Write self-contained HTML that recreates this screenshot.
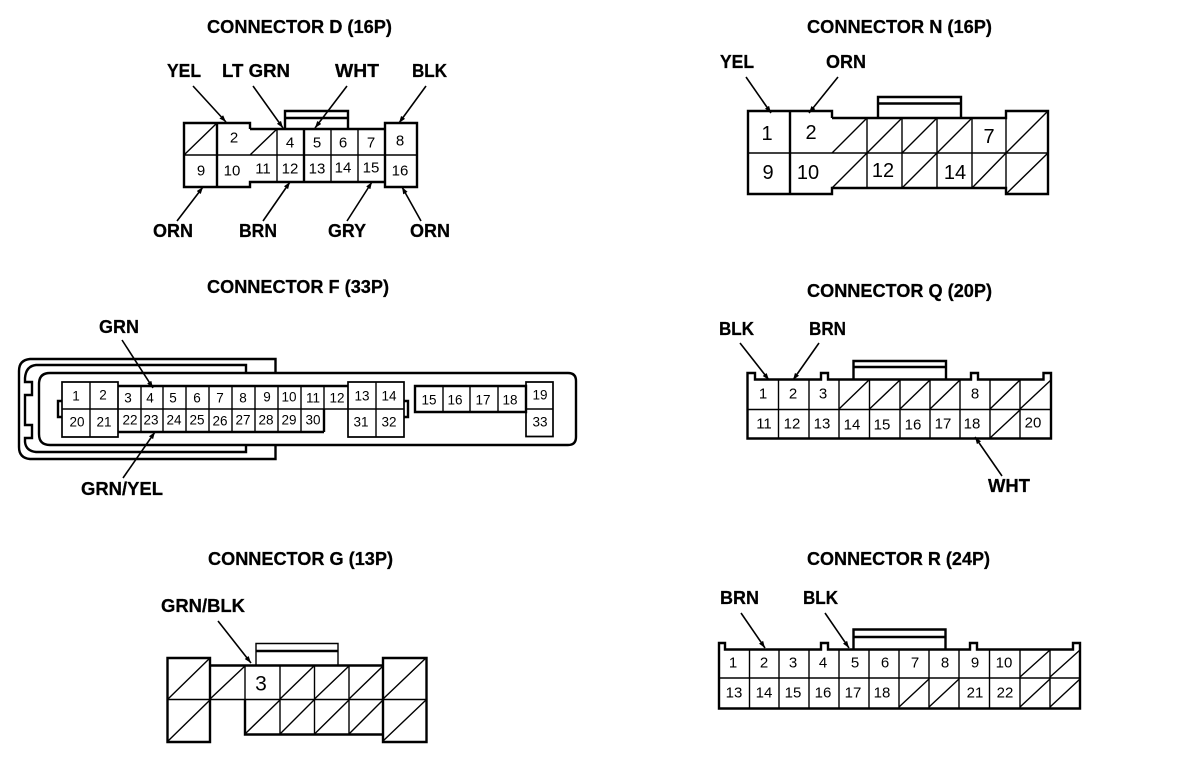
<!DOCTYPE html>
<html><head><meta charset="utf-8"><style>
html,body{margin:0;padding:0;background:#fff}
svg{display:block}
text{font-family:"Liberation Sans",sans-serif;fill:#000}
.t{font-weight:bold;font-size:18.500px;stroke:#000;stroke-width:.25}
.l{font-weight:bold;font-size:18.500px;stroke:#000;stroke-width:.25}
.n text{text-anchor:middle;dominant-baseline:central}
.h{fill:none;stroke:#000;stroke-width:2.400}
.m{fill:none;stroke:#000;stroke-width:1.400}
.a{fill:none;stroke:#000;stroke-width:1.600;marker-end:url(#ah)}
</style></head><body>
<svg width="1184" height="768" viewBox="0 0 1184 768" xmlns="http://www.w3.org/2000/svg">
<defs><marker id="ah" markerUnits="userSpaceOnUse" markerWidth="10" markerHeight="8" refX="7" refY="2.500" orient="auto"><path d="M0 0L7 2.500L0 5Z" fill="#000"/></marker></defs>

<!-- Titles -->
<text class="t" x="207" y="33" textLength="185" lengthAdjust="spacingAndGlyphs">CONNECTOR D (16P)</text>
<text class="t" x="807" y="33" textLength="185" lengthAdjust="spacingAndGlyphs">CONNECTOR N (16P)</text>
<text class="t" x="207" y="293" textLength="182" lengthAdjust="spacingAndGlyphs">CONNECTOR F (33P)</text>
<text class="t" x="807" y="297" textLength="185" lengthAdjust="spacingAndGlyphs">CONNECTOR Q (20P)</text>
<text class="t" x="208" y="565" textLength="185" lengthAdjust="spacingAndGlyphs">CONNECTOR G (13P)</text>
<text class="t" x="807" y="565" textLength="183" lengthAdjust="spacingAndGlyphs">CONNECTOR R (24P)</text>

<!-- Connector D -->
<path class="h" d="M250 129V123H184V187H250V182H385V187H417V123H385V129H250M217 123V187M304 129V182M385 123V187M285 129V111H348V129M285 118H348"/>
<path class="m" d="M184 155H417M277 129V182M331 129V182M358 129V182M184 155L217 123M250 155L277 129"/>
<g class="n" font-size="15">
<text x="234" y="138">2</text><text x="290" y="143">4</text><text x="317" y="143">5</text><text x="343" y="143">6</text><text x="371" y="143">7</text><text x="400" y="141">8</text>
<text x="201" y="171">9</text><text x="232" y="171">10</text><text x="263" y="169">11</text><text x="290" y="169">12</text><text x="317" y="169">13</text><text x="343" y="168">14</text><text x="371" y="168">15</text><text x="400" y="171">16</text>
</g>
<path class="a" d="M193 86L226 122"/><path class="a" d="M253 86L283 128"/><path class="a" d="M347 86L315 128"/><path class="a" d="M426 86L399 123"/>
<path class="a" d="M177 221L203 187"/><path class="a" d="M263 221L290 182"/><path class="a" d="M347 221L372 182"/><path class="a" d="M421 221L402 187"/>
<text class="l" x="167" y="77" textLength="34" lengthAdjust="spacingAndGlyphs">YEL</text>
<text class="l" x="222" y="77" textLength="68" lengthAdjust="spacingAndGlyphs">LT GRN</text>
<text class="l" x="335" y="77" textLength="44" lengthAdjust="spacingAndGlyphs">WHT</text>
<text class="l" x="412" y="77" textLength="35" lengthAdjust="spacingAndGlyphs">BLK</text>
<text class="l" x="153" y="237" textLength="40" lengthAdjust="spacingAndGlyphs">ORN</text>
<text class="l" x="239" y="237" textLength="38" lengthAdjust="spacingAndGlyphs">BRN</text>
<text class="l" x="328" y="237" textLength="38" lengthAdjust="spacingAndGlyphs">GRY</text>
<text class="l" x="410" y="237" textLength="40" lengthAdjust="spacingAndGlyphs">ORN</text>

<!-- Connector N -->
<path class="h" d="M832 118V111H748V194H832V188H1006V194H1048V111H1006V118H832M790 111V194M878 118V97H961V118M878 103.500H961"/>
<path class="m" d="M748 153H1048M867 118V188M902 118V188M937 118V188M972 118V188M1006 111V194"/>
<path class="m" d="M832 153L867 118M867 153L902 118M902 153L937 118M937 153L972 118M1006 153L1048 111M832 188L867 153M902 188L937 153M972 188L1006 153M1006 194L1048 153"/>
<g class="n" font-size="20">
<text x="767" y="134">1</text><text x="811" y="133">2</text><text x="989" y="137">7</text>
<text x="768" y="173">9</text><text x="808" y="173">10</text><text x="883" y="171">12</text><text x="955" y="173">14</text>
</g>
<path class="a" d="M746 77L771 113"/><path class="a" d="M838 77L809 113"/>
<text class="l" x="720" y="68" textLength="34" lengthAdjust="spacingAndGlyphs">YEL</text>
<text class="l" x="826" y="68" textLength="40" lengthAdjust="spacingAndGlyphs">ORN</text>

<!-- Connector F -->
<path class="h" d="M246 373V365H36Q26 366 25 378V382H32V395H25V425H32V438H25V442Q26 451 36 452H246V445M275.500 373V359H30Q19 360 19 371V447Q19 458 30 459H275.500V445"/>
<path class="h" d="M50 373H568Q576 373 576 381V437Q576 445 568 445H50Q39 445 39 434V384Q39 373 50 373Z"/>
<path d="M62 382H118V437H62ZM348 382H404V437H348ZM526 382H553V436.500H526Z" fill="#fff" stroke="#000" stroke-width="1.700"/>
<path class="h" d="M62 401H58V417H62M404 401H408V417H404M415 386H526V412H415ZM118 386H348M118 432H324M324 409V432"/>
<path class="m" d="M62 409H404M526 409H553M90 382V437M376 382V437M141 386V432M163 386V432M186 386V432M209 386V432M232 386V432M255 386V432M278 386V432M301 386V432M324 386V409M443 386V412M470 386V412M498 386V412"/>
<g class="n" font-size="13.500">
<text x="76" y="396">1</text><text x="103" y="395">2</text><text x="128" y="398">3</text><text x="150" y="398">4</text><text x="173" y="398">5</text><text x="197" y="398">6</text><text x="220" y="398">7</text><text x="243" y="398">8</text><text x="267" y="397">9</text><text x="289" y="397">10</text><text x="313" y="398">11</text><text x="337" y="398">12</text><text x="362" y="396">13</text><text x="389" y="396">14</text><text x="429" y="400">15</text><text x="455" y="400">16</text><text x="483" y="400">17</text><text x="510" y="400">18</text><text x="540" y="395">19</text>
<text x="77" y="422">20</text><text x="104" y="422">21</text><text x="130" y="420">22</text><text x="151" y="420">23</text><text x="174" y="420">24</text><text x="197" y="420">25</text><text x="220" y="421">26</text><text x="243" y="420">27</text><text x="266" y="420">28</text><text x="289" y="420">29</text><text x="313" y="420">30</text><text x="361" y="422">31</text><text x="389" y="422">32</text><text x="540" y="422">33</text>
</g>
<path class="a" d="M122 340L153 388"/><path class="a" d="M123 478L155 432"/>
<text class="l" x="99" y="333" textLength="40" lengthAdjust="spacingAndGlyphs">GRN</text>
<text class="l" x="81" y="495" textLength="82" lengthAdjust="spacingAndGlyphs">GRN/YEL</text>

<!-- Connector Q -->
<path class="h" d="M747.500 438.500V373H755V379.500H821V373H828V379.500H971V373H978V379.500H1043.500V373H1051V438.500ZM853.500 379V361H946V379M853.500 367H946"/>
<path class="m" d="M747 409.500H1051M778.500 379V438M809 379V438M839 379V438M869.500 379V438M900 379V438M930 379V438M960 379V438M990 379V438M1020 379V438"/>
<path class="m" d="M839 409L869 380M869.500 409L900 380M900 409L930 380M930 409L960 380M990 409L1020 380M1020 409L1051 380M990 438L1020 410"/>
<g class="n" font-size="15">
<text x="763" y="394">1</text><text x="793" y="394">2</text><text x="823" y="394">3</text><text x="975" y="394">8</text>
<text x="764" y="424">11</text><text x="792" y="424">12</text><text x="822" y="424">13</text><text x="852" y="425">14</text><text x="882" y="425">15</text><text x="913" y="425">16</text><text x="943" y="424">17</text><text x="972" y="424">18</text><text x="1033" y="423">20</text>
</g>
<path class="a" d="M740 343L769 380"/><path class="a" d="M819 343L793 380"/><path class="a" d="M1002 476L975 437"/>
<text class="l" x="719" y="335" textLength="35" lengthAdjust="spacingAndGlyphs">BLK</text>
<text class="l" x="809" y="335" textLength="37" lengthAdjust="spacingAndGlyphs">BRN</text>
<text class="l" x="988" y="492" textLength="42" lengthAdjust="spacingAndGlyphs">WHT</text>

<!-- Connector G -->
<path class="h" d="M167.500 658H210V742H167.500ZM210 665.500H383M245 699V734.500H383M383 658H426.500V742H383Z"/>
<path class="m" d="M256 665V643.500H338V665"/><path class="h" d="M256 651H338"/>
<path class="m" d="M167 699.500H426M245 665V734M280 665V734M314.500 665V734M349 665V734"/>
<path class="m" d="M168 699L210 658M168 741L210 700M210 699L245 666M280 699L314 666M314.500 699L349 666M349 699L383 666M383 699L426 658M383 741L426 700M245 734L280 700M280 734L314 700M314.500 734L349 700M349 734L383 700"/>
<text x="261" y="684" font-size="21" text-anchor="middle" dominant-baseline="central">3</text>
<path class="a" d="M218 621L251 663"/>
<text class="l" x="161" y="612" textLength="84" lengthAdjust="spacingAndGlyphs">GRN/BLK</text>

<!-- Connector R -->
<path class="h" d="M719 708.500V643H725V649.500H821V643H828V649.500H970V643H977V649.500H1073V643H1080V708.500ZM853.500 649V629.500H945.500V649M853.500 637H945.500"/>
<path class="m" d="M719 678H1080M749.500 649V708M779 649V708M809 649V708M839 649V708M869 649V708M899 649V708M929 649V708M959 649V708M989.500 649V708M1020 649V708M1050 649V708"/>
<path class="m" d="M1020 677L1050 650M1050 677L1080 650M899 707L929 679M929 707L959 679M1020 707L1050 679M1050 707L1080 679"/>
<g class="n" font-size="15">
<text x="733" y="663">1</text><text x="764" y="663">2</text><text x="793" y="663">3</text><text x="823" y="663">4</text><text x="855" y="663">5</text><text x="885" y="663">6</text><text x="915" y="663">7</text><text x="945" y="663">8</text><text x="975" y="663">9</text><text x="1004" y="663">10</text>
<text x="734" y="693">13</text><text x="764" y="693">14</text><text x="793" y="693">15</text><text x="823" y="693">16</text><text x="853" y="693">17</text><text x="882" y="693">18</text><text x="975" y="693">21</text><text x="1005" y="693">22</text>
</g>
<path class="a" d="M741 613L765 648"/><path class="a" d="M825 613L849 648"/>
<text class="l" x="720" y="604" textLength="39" lengthAdjust="spacingAndGlyphs">BRN</text>
<text class="l" x="803" y="604" textLength="35" lengthAdjust="spacingAndGlyphs">BLK</text>
</svg>
</body></html>
